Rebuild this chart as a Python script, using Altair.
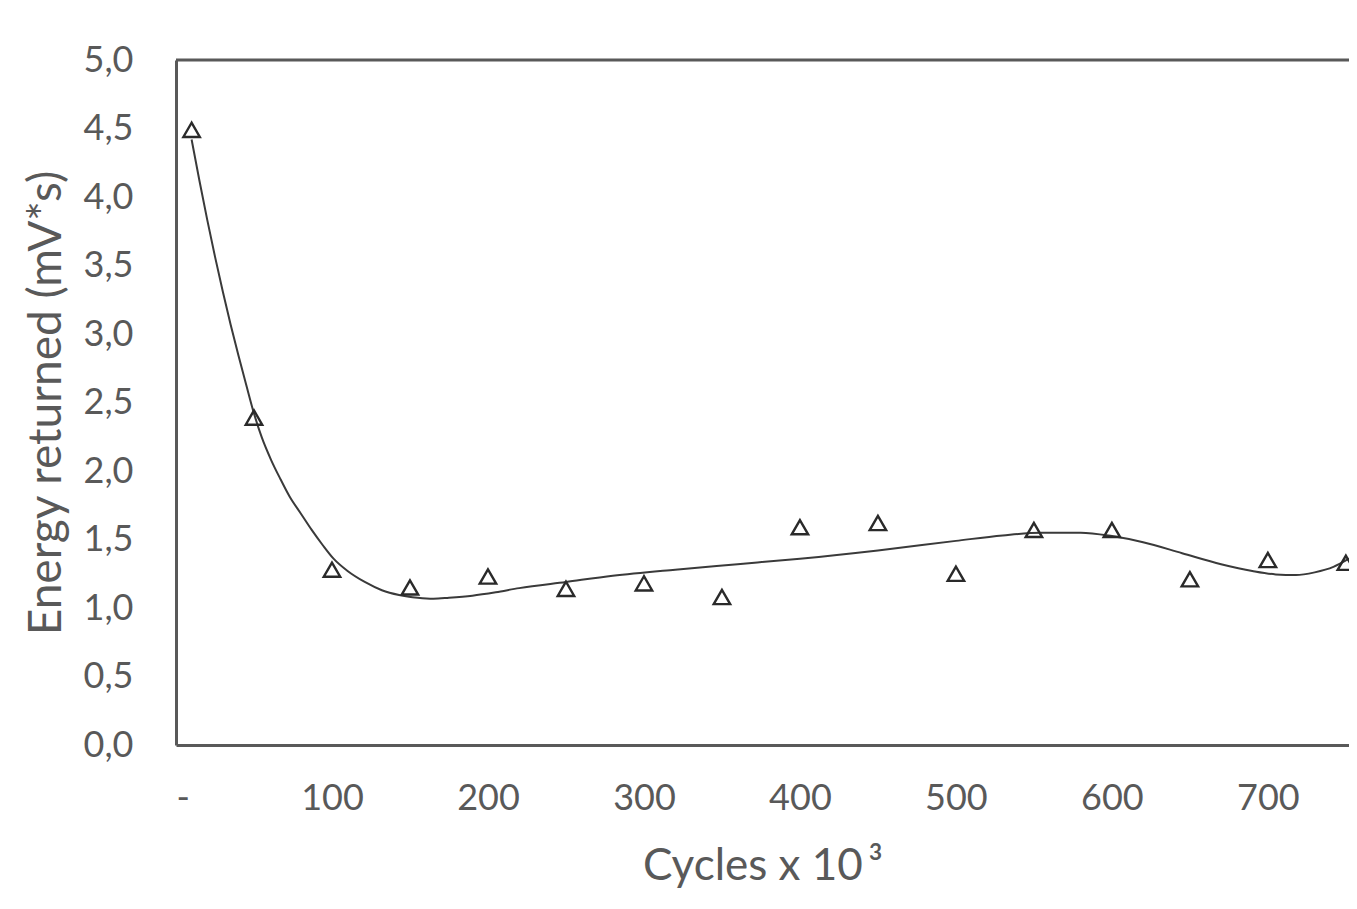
import altair as alt
import pandas as pd

# Measured data points (cycles x 10^3, energy returned mV*s)
cycles = [10, 50, 100, 150, 200, 250, 300, 350, 400, 450, 500, 550, 600, 650, 700, 750]
energy = [4.49, 2.39, 1.28, 1.15, 1.23, 1.14, 1.18, 1.08, 1.59, 1.62, 1.25, 1.57, 1.57, 1.21, 1.35, 1.33]

# Trend curve
curve_x = [10, 15, 20, 25, 30, 35, 40, 45, 50, 55, 61, 67, 73, 80, 87, 94, 101, 110, 121, 132,
           143, 155, 165, 175, 190, 205, 220, 250, 280, 320, 360, 400, 450, 500, 530, 555, 580,
           600, 620, 645, 670, 690, 705, 718, 730, 742, 752]
curve_y = [4.42, 4.12, 3.835, 3.565, 3.31, 3.07, 2.845, 2.63, 2.42, 2.245, 2.08, 1.94, 1.81, 1.69,
           1.57, 1.46, 1.36, 1.27, 1.19, 1.13, 1.095, 1.075, 1.068, 1.075, 1.09, 1.115, 1.145, 1.19,
           1.235, 1.28, 1.32, 1.36, 1.42, 1.49, 1.53, 1.55, 1.55, 1.525, 1.48, 1.40, 1.32, 1.27,
           1.245, 1.24, 1.26, 1.30, 1.36]

x_ticks = [0, 100, 200, 300, 400, 500, 600, 700]
y_ticks = [0, 0.5, 1, 1.5, 2, 2.5, 3, 3.5, 4, 4.5, 5]

pts = pd.DataFrame({"cycles": cycles, "energy": energy})
crv = pd.DataFrame({"cycles": curve_x, "energy": curve_y})
top = pd.DataFrame({"energy": [5]})

FONT = "Lato"
GREY = "#595959"

xscale = alt.Scale(domain=[0, 752], nice=False, zero=False)
yscale = alt.Scale(domain=[0, 5], nice=False)

xaxis = alt.Axis(values=x_ticks, labelExpr="datum.value == 0 ? '-' : datum.label",
                 title="Cycles x 10\u2009³", grid=False, ticks=False,
                 domainColor=GREY, domainWidth=3,
                 labelFont=FONT, labelFontSize=36, labelColor=GREY, labelPadding=36,
                 titleFont=FONT, titleFontSize=44, titleFontWeight="normal", titleColor=GREY,
                 titlePadding=28)
yaxis = alt.Axis(values=y_ticks, labelExpr="replace(format(datum.value, '.1f'), '.', ',')",
                 title="Energy returned (mV*s)", grid=False, ticks=False,
                 domainColor=GREY, domainWidth=3,
                 labelFont=FONT, labelFontSize=36, labelColor=GREY, labelPadding=43,
                 titleFont=FONT, titleFontSize=46, titleFontWeight="normal", titleColor=GREY,
                 titlePadding=13)

line = alt.Chart(crv).mark_line(color="#3a3a3a", strokeWidth=2, interpolate="monotone").encode(
    x=alt.X("cycles:Q", scale=xscale, axis=xaxis),
    y=alt.Y("energy:Q", scale=yscale, axis=yaxis),
)

points = alt.Chart(pts).mark_point(shape="triangle-up", filled=False, color="#2a2a2a",
                                   strokeWidth=2.4, size=270, opacity=1).encode(
    x=alt.X("cycles:Q", scale=xscale),
    y=alt.Y("energy:Q", scale=yscale),
)

toprule = alt.Chart(top).mark_rule(color=GREY, strokeWidth=3).encode(
    y=alt.Y("energy:Q", scale=yscale),
)

chart = alt.layer(toprule, line, points).properties(
    width=1173, height=685,
    autosize=alt.AutoSizeParams(type="none"),
    padding={"left": 168, "top": 52, "right": 0, "bottom": 152},
).configure_view(stroke=None)

chart.save("out.html", embed_options={"renderer": "svg", "actions": False})
